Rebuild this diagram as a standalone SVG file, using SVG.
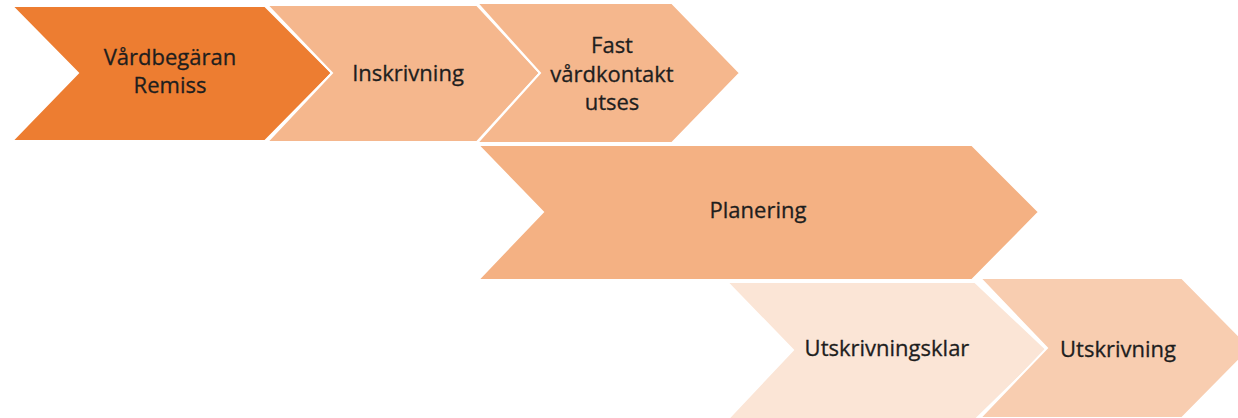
<svg xmlns="http://www.w3.org/2000/svg" width="1238" height="418" viewBox="0 0 1238 418">
  <style>
    .chev { stroke: #ffffff; stroke-width: 2; stroke-linejoin: miter; }
    .c1 { fill: #ED7D31; }
    .c2 { fill: #F5B78D; }
    .c3 { fill: #F4B183; }
    .c4 { fill: #FBE5D6; }
    .c5 { fill: #F8CDB0; }
    text { font-family: "Open Sans", "Liberation Sans", sans-serif; font-size: 22px; fill: #1e1e1e; stroke: #1e1e1e; stroke-width: 0.3; text-anchor: middle; }
  </style>
  <rect width="1238" height="418" fill="#ffffff"/>
  <g id="node-vardbegaran">
    <polygon class="chev c1" points="12,6 265,6 332,73 265,141 12,141 78,73"/>
    <text x="170" y="65">Vårdbegäran</text>
    <text x="170" y="93">Remiss</text>
  </g>
  <g id="node-inskrivning">
    <polygon class="chev c2" points="267,5 477,5 540,73 477,142 267,142 332,73"/>
    <text x="408" y="81">Inskrivning</text>
  </g>
  <g id="node-fast-vardkontakt">
    <polygon class="chev c2" points="477,3 672,3 740,73 672,143 477,143 540,73"/>
    <text x="612" y="53">Fast</text>
    <text x="612" y="82">vårdkontakt</text>
    <text x="612" y="110">utses</text>
  </g>
  <g id="node-planering">
    <polygon class="chev c3" points="478,145 972,145 1039,212 972,280 478,280 543,212"/>
    <text x="758" y="218">Planering</text>
  </g>
  <g id="node-utskrivningsklar">
    <polygon class="chev c4" points="727,282 975,282 1047,350 975,420 727,420 793,350"/>
    <text x="887" y="356">Utskrivningsklar</text>
  </g>
  <g id="node-utskrivning">
    <polygon class="chev c5" points="980,278 1182,278 1251,348 1182,418 980,418 1047,348"/>
    <text x="1118" y="357">Utskrivning</text>
  </g>
  <g id="connectors"></g>
</svg>
